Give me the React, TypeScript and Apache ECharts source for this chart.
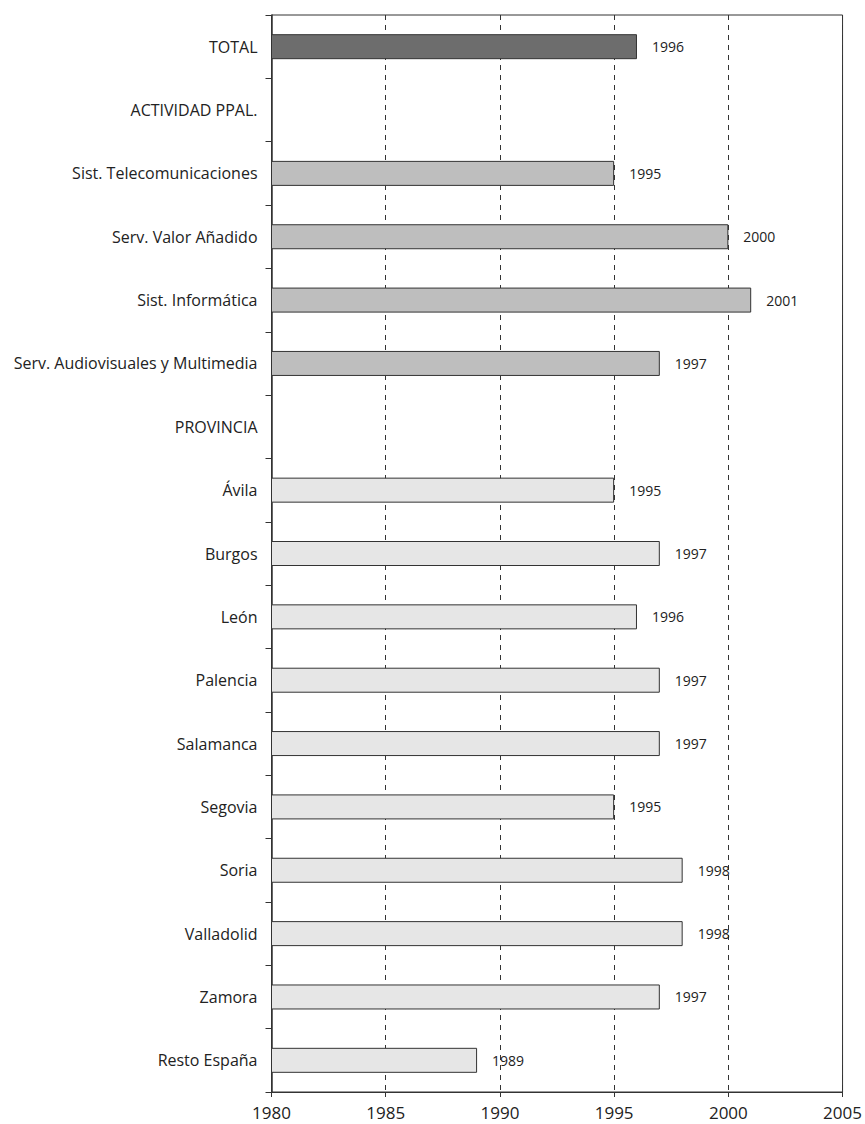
import React, { useEffect, useRef } from "react";
import * as echarts from "echarts";

const categories = [
  "TOTAL",
  "ACTIVIDAD PPAL.",
  "Sist. Telecomunicaciones",
  "Serv. Valor Añadido",
  "Sist. Informática",
  "Serv. Audiovisuales y Multimedia",
  "PROVINCIA",
  "Ávila",
  "Burgos",
  "León",
  "Palencia",
  "Salamanca",
  "Segovia",
  "Soria",
  "Valladolid",
  "Zamora",
  "Resto España",
];

const years: (number | null)[] = [
  1996, null, 1995, 2000, 2001, 1997, null,
  1995, 1997, 1996, 1997, 1997, 1995, 1998, 1998, 1997, 1989,
];

const groups = [
  "total", "head", "act", "act", "act", "act", "head",
  "prov", "prov", "prov", "prov", "prov", "prov", "prov", "prov", "prov", "prov",
];

const groupColors: Record<string, string> = {
  total: "#6d6d6d",
  act: "#bebebe",
  prov: "#e6e6e6",
  head: "transparent",
};

const xTicks = [1980, 1985, 1990, 1995, 2000, 2005];

export default function App() {
  const ref = useRef<HTMLDivElement>(null);
  useEffect(() => {
    if (!ref.current) return;
    const chart = echarts.init(ref.current, null, { renderer: "svg" });
    const font = "'Open Sans', 'Noto Sans', sans-serif";
    chart.setOption({
      animation: false,
      grid: {
        left: 271.5,
        right: 20,
        top: 15,
        bottom: 32,
        show: true,
        borderColor: "#333",
        borderWidth: 1,
        backgroundColor: "transparent",
      },
      xAxis: {
        type: "value",
        min: xTicks[0],
        max: xTicks[xTicks.length - 1],
        interval: 5,
        axisLine: { show: true, lineStyle: { color: "#333", width: 1 } },
        axisTick: { show: true, length: 5, lineStyle: { color: "#333" } },
        axisLabel: {
          color: "#222",
          fontSize: 17,
          fontFamily: font,
          margin: 12,
          formatter: (v: number) => String(v),
        },
        splitLine: {
          show: true,
          lineStyle: { color: "#333", type: [5, 5], width: 1 },
        },
      },
      yAxis: {
        type: "category",
        data: categories,
        inverse: true,
        axisLine: { show: true, lineStyle: { color: "#333", width: 1.5 } },
        axisTick: { show: true, length: 6, lineStyle: { color: "#333" } },
        axisLabel: {
          color: "#222",
          fontSize: 16,
          fontFamily: font,
          margin: 14,
        },
        splitLine: { show: false },
      },
      series: [
        {
          type: "bar",
          barWidth: 25,
          data: years.map((v, i) => ({
            value: v,
            itemStyle: {
              color: groupColors[groups[i]],
              borderColor: "#333",
              borderWidth: 1,
            },
          })),
          label: {
            show: true,
            position: "right",
            distance: 15,
            color: "#222",
            fontSize: 14,
            fontFamily: font,
            formatter: (p: any) => (p.value == null ? "" : String(p.value)),
          },
        },
      ],
    });
    return () => chart.dispose();
  }, []);
  return (
    <div
      ref={ref}
      style={{ position: "absolute", left: 0, top: 0, width: 865, height: 1124, background: "#fff" }}
    />
  );
}
